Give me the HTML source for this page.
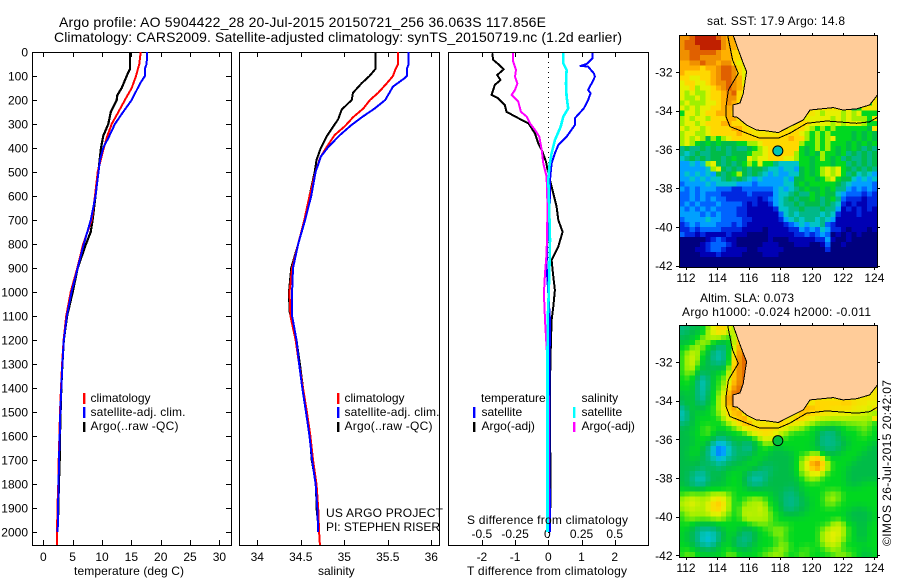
<!DOCTYPE html>
<html><head><meta charset="utf-8"><title>Argo profile</title>
<style>
html,body{margin:0;padding:0;background:#fff}
svg{display:block}
text{font-family:"Liberation Sans",sans-serif;font-size:12px;fill:#000}
</style></head>
<body>
<svg id="fig" xmlns="http://www.w3.org/2000/svg" width="900" height="580" viewBox="0 0 900 580">
<rect width="900" height="580" fill="#fff"/>
<text x="59" y="27" style="font-size:14px" textLength="487">Argo profile: AO 5904422_28 20-Jul-2015 20150721_256 36.063S 117.856E</text>
<text x="54" y="42" style="font-size:14px" textLength="568">Climatology: CARS2009. Satellite-adjusted climatology: synTS_20150719.nc (1.2d earlier)</text>
<g id="plots"></g>
<g id="maps"></g>
<g>
<rect x="83" y="393" width="2.4" height="11" fill="#f00"/>
<rect x="83" y="407" width="2.4" height="11" fill="#00f"/>
<rect x="83" y="422" width="2.4" height="10" fill="#000"/>
<text x="90.5" y="402">climatology</text>
<text x="90.5" y="416" textLength="95">satellite-adj. clim.</text>
<text x="90.5" y="430" textLength="88">Argo(..raw -QC)</text>
</g>
<g>
<rect x="337" y="393" width="2.4" height="11" fill="#f00"/>
<rect x="337" y="407" width="2.4" height="11" fill="#00f"/>
<rect x="337" y="422" width="2.4" height="10" fill="#000"/>
<text x="344.5" y="402">climatology</text>
<text x="344.5" y="416" textLength="95">satellite-adj. clim.</text>
<text x="344.5" y="430" textLength="88">Argo(..raw -QC)</text>
<text x="326" y="517" textLength="117">US ARGO PROJECT</text>
<text x="326" y="531" textLength="114">PI: STEPHEN RISER</text>
</g>
<g>
<text x="481" y="402">temperature</text>
<rect x="473" y="407" width="2.4" height="11" fill="#00f"/>
<rect x="473" y="422" width="2.4" height="10" fill="#000"/>
<text x="481.5" y="416">satellite</text>
<text x="481.5" y="430">Argo(-adj)</text>
<text x="581.5" y="402">salinity</text>
<rect x="573" y="407" width="2.4" height="11" fill="#0ff"/>
<rect x="573" y="422" width="2.4" height="10" fill="#f0f"/>
<text x="581.5" y="416">satellite</text>
<text x="581.5" y="430">Argo(-adj)</text>
</g>
<text x="74" y="575" textLength="110">temperature (deg C)</text>
<text x="318" y="575">salinity</text>
<text x="467" y="575" textLength="160">T difference from climatology</text>
<text x="467" y="524" textLength="161">S difference from climatology</text>
<text x="707" y="25" textLength="138">sat. SST: 17.9 Argo: 14.8</text>
<text x="700" y="302" textLength="94">Altim. SLA: 0.073</text>
<text x="682" y="316" textLength="189">Argo h1000: -0.024 h2000: -0.011</text>
<text x="0" y="0" transform="translate(891,546) rotate(-90)" textLength="166">©IMOS 26-Jul-2015 20:42:07</text>
</svg>
<script>
// ---------- profile data ----------
const depthTicks = [0,100,200,300,400,500,600,700,800,900,1000,1100,1200,1300,1400,1500,1600,1700,1800,1900,2000];
const tempTicks = [0,5,10,15,20,25,30];
const salTicks = [34,34.5,35,35.5,36];
const tDiffTicks = [-2,-1,0,1,2];
const sDiffTicks = [-0.5,-0.25,0,0.25,0.5];

const tempClimDepth = [0,50,100,150,200,250,300,350,400,500,600,700,800,900,1000,1100,1200,1300,1400,1500,1600,1700,1800,1900,2000,2054];
const tempClim = [16.6,16.35,15.8,15.06,13.9,12.8,11.65,10.9,10.3,9.26,8.8,8.24,6.8,5.8,4.66,3.9,3.45,3.2,3.02,2.85,2.75,2.62,2.55,2.4,2.35,2.3];
const tempSatDepth = [0,50,70,100,130,200,250,300,350,400,450,500,600,700,800,900,1000,1100,1200,1300,1400,1500,1600,1700,1800,1900,2000];
const tempSat = [17.7,17.6,17.3,17.3,16.5,15.06,13.6,12.2,11.25,10.2,9.66,9.4,8.9,8.1,6.9,5.86,4.8,4.0,3.5,3.25,3.07,2.9,2.79,2.67,2.6,2.5,2.45];
const tempArgoDepth = [0,70,100,150,180,200,250,300,350,400,500,600,700,750,800,900,1000,1100,1200,1300,1400,1500,1600,1700,1800,1900,1960];
const tempArgo = [14.77,14.77,14.2,13.35,12.6,12.5,11.5,11.07,10.2,9.83,9.37,8.9,8.4,8.07,7.27,5.86,5.0,4.05,3.5,3.25,3.07,2.95,2.85,2.8,2.65,2.55,2.5];

const salClimDepth = [0,50,70,100,130,170,200,235,272,308,346,394,443,500,600,700,800,900,1000,1100,1200,1300,1400,1500,1600,1700,1800,1900,2000,2054];
const salClim = [35.62,35.62,35.59,35.56,35.49,35.39,35.295,35.22,35.1,35.01,34.89,34.8,34.72,34.67,34.6,34.54,34.47,34.4,34.37,34.38,34.44,34.48,34.525,34.57,34.61,34.64,34.68,34.7,34.71,34.72];
const salSatDepth = [0,50,70,100,110,144,200,235,272,308,346,394,436,500,600,700,800,900,1000,1100,1200,1300,1400,1500,1600,1700,1800,1900,2000];
const salSat = [35.74,35.74,35.72,35.72,35.69,35.56,35.47,35.35,35.2,35.07,34.95,34.82,34.73,34.67,34.62,34.55,34.47,34.41,34.4,34.4,34.45,34.48,34.517,34.56,34.6,34.63,34.67,34.69,34.7];
const salArgoDepth = [0,70,100,130,170,200,240,280,320,350,400,450,500,600,700,800,900,1000,1080,1200,1300,1400,1500,1600,1700,1800,1900,1970];
const salArgo = [35.356,35.36,35.29,35.2,35.1,35.085,34.97,34.93,34.855,34.8,34.73,34.68,34.66,34.6,34.55,34.47,34.39,34.364,34.37,34.45,34.49,34.525,34.565,34.605,34.625,34.675,34.68,34.7];

const diffTArgoDepth = [5,33,50,72,96,117,137,179,193,221,249,276,297,339,381,408,457,485,533,589,644,700,749,811,867,936,992,1061,1117,1300,1500,1700,1900];
const diffTArgo = [-1.69,-1.66,-1.51,-1.34,-1.54,-1.44,-1.61,-1.71,-1.51,-1.31,-1.26,-0.9,-0.6,-0.4,-0.3,-0.2,-0.07,-0.03,0.05,0.15,0.25,0.3,0.43,0.3,0.1,0.15,0.2,0.15,0.1,0.06,0.05,0.06,0.06];
const diffTSatDepth = [5,26,50,58,61,89,103,131,158,172,200,235,276,304,353,388,422,464,533,617,714,783,894,1006,1117,1300,1500,1700,2000];
const diffTSat = [1.325,1.335,1.155,0.97,1.2,1.375,1.405,1.305,1.2,1.275,1.2,1.07,0.8,0.8,0.55,0.3,0.2,0.1,0.05,0.05,0,-0.03,-0.05,0,0.05,0.04,0.03,0.04,0.05];
const diffSArgoDepth = [5,40,75,103,131,158,179,207,249,269,297,325,353,408,464,519,617,700,839,922,1006,1117,1300,1500,1700,1960];
const diffSArgo = [-0.264,-0.264,-0.243,-0.251,-0.233,-0.251,-0.276,-0.226,-0.206,-0.163,-0.138,-0.1,-0.068,-0.05,-0.038,-0.0125,-0.0075,-0.0075,-0.0125,-0.025,-0.033,-0.025,-0.005,0.002,0.003,0.002];
const diffSSatDepth = [5,47,75,131,186,235,269,311,367,422,478,533,617,783,922,1061,1117,1400,2000];
const diffSSat = [0.113,0.113,0.138,0.133,0.138,0.15,0.113,0.093,0.05,0.025,0.0075,0,0.005,0.0125,0.0075,0,-0.005,-0.006,-0.006];

// ---------- map data: one hex digit per cell = colour level, '.' = land ----------
const lonTicks = [112,114,116,118,120,122,124];
const latTicks = [-32,-34,-36,-38,-40,-42];
const lonStart = 111.573, lonStep = 0.3319, latStart = -30.09, latStep = -0.2607;
const argoLon = [117.85];
const argoLat = [-36.07];
const coastLon = [115.0,115.33,115.65,115.86,115.76,115.65,115.44,115.0,115.0,115.27,115.86,116.5,117.03,117.88,118.62,119.47,119.9,121.38,122,122.87,123.7,124.19];
const coastLat = [-30.09,-30.86,-31.55,-31.98,-32.5,-33.1,-33.6,-33.7,-34.3,-34.34,-34.74,-35.0,-35.03,-35.13,-34.82,-34.48,-33.96,-33.84,-33.96,-33.9,-33.7,-33.19];
const shelfLon = [114.65,114.97,115.33,114.7,114.55,114.55,114.8,115.86,116.7,117.88,118.62,119.68,120.96,122.87,123.7,124.19];
const shelfLat = [-30.09,-31.38,-32.07,-32.93,-33.79,-34.3,-34.82,-35.16,-35.42,-35.42,-35.16,-34.65,-34.53,-34.65,-34.57,-34.34];

const sstRows = [
"ddeff ffedc cb","deeff fffdc cb","deeef fffdc cb","ddeee eedcc bb","ddeed dddcc bb",
"ccdde ddcdd bab","ccccb ccdee dba","cbbbb bcdee dbaa","bbaab bcdee dcaa","abbaa bcdde dcaa9",
"aab9a abcde dcba9","a9a99 abbcd ebaa8","a99a9 abbcd dbaa8 ..... ..... ..... ..... 8","9a999 aabcd cb988 8.... ..... ..... ..... 88","a9a9a abbcc c.... ..... ..... ..... ...78",
"8aa9a bbccc b.... ..... ..... .a9aa a9a9a 888","9a9aa 9bbbc c.... ..... .... aaaaa 9a9a9 998","9aa9a bbbcc bb... ..... ...bb aaaa9 a9aaa 988","a9aa9 abbbb ccb.. ..... ..bba 98989 88888 87","9aa99 abbbb bcbb. .... bbbba 98989 88887 8787",
"9a9a9 7989a bbbbb bbbbb bcbb9 8989a 88878 787","9a987 87877 78899 abbbb bbb98 89898 88787 878","67667 67676 76678 9abbb bbb87 89898 78787 676","65676 67776 77789 9abbb bb987 87988 78676 767","56767 67767 877a9 aabbb aa988 78987 86766 767",
"44545 9a767 67898 a8865 55588 78887 88676 767","44444 59a76 76767 76554 55478 789a9 a8767 676","45454 54767 89767 65454 45578 789a9 a8675 654","44545 45567 67654 54444 54778 8789a 87754 545","34444 54555 54443 44444 55787 88888 76544 443",
"43434 44333 22333 33345 45678 77878 66434 343","33434 33322 22232 22245 56766 87877 54333 232","33434 34332 22222 12345 67677 87678 63222 122","34343 33433 33212 11245 66767 77676 52121 122","43434 34333 32211 11125 56676 66766 41212 121",
"44443 43433 32211 11113 56566 66565 21112 111","34444 54433 33221 11112 45656 65654 11111 111","23434 44333 23211 11111 23454 55632 11111 111","22323 33322 22111 10111 12243 43542 21011 101","32212 11112 11100 00111 11223 23430 10101 000",
"00000 12321 10000 00100 01111 12241 00100 000","00001 23332 10000 01110 00111 00130 01000 000","00011 23321 11100 11111 00000 00020 00000 000","00001 11211 11000 01110 00000 00000 00000 000","00000 00000 00000 00000 00000 00000 00000 000","00000 00000 00000 00000 00000 00000 00000 000"
];
const slaRows = [
"66777 9abca 99","67778 9abb9 9b","77789 9a998 9c","77899 98777 9ccd","88999 87667 acee",
"89a98 76567 bdee","89a98 76567 bdee","89a97 76667 cdee","89a87 77778 cdee","89977 77889 cdee",
"88965 68899 cdee","88865 68899 cdee","88865 6889b deed ..... ..... ..... ..... a","77865 7899c eedb. ..... ..... ..... ..... aa","77865 789ad eec.. ..... ..... ..... ...aa",
"77866 789ad e.... ..... ..... .bbbb bbcbb baa","57877 889ab c.... ..... .... ccbbb bbbba aaa","56787 889ab cc... ..... ...cb bbbba aaaaa a99","56788 8889a bcc.. ..... ..cbb aa999 9a999 99","67788 88889 abcc. .... cbbaa 99899 99899 9998",
"77788 98888 89abb bbbba a9998 88776 78888 988","77888 98778 8889a bbba9 98888 87666 78888 988","77788 87667 78788 9aa99 88888 87666 77888 888","77788 76455 77667 89988 88888 87666 67788 887","77887 65245 67657 88877 88888 77666 77888 877",
"77887 65245 67677 88777 77888 99877 78888 777","77877 66456 67778 87777 77899 bc988 88887 777","77777 67567 77788 77777 7789a dfc98 88877 777","77776 77677 78887 76677 7789a bdb98 88777 777","77665 77778 88766 66777 77899 aa988 88777 777",
"77655 67778 88765 56777 77789 99888 88777 777","77665 77778 88766 67777 77788 88888 88777 888","87777 88888 88877 77777 76778 88888 88888 888","89999 99999 88888 88877 66778 88899 98888 888","99a99 9aba9 88899 98877 66677 88899 98888 888",
"9aaa9 abcb9 88999 a9887 66677 88899 88888 888","99a99 abca9 88a99 a9887 66777 88888 88877 788","89999 9aa99 88a99 a9988 77778 88888 88777 778","89999 99998 889a9 99988 88888 88888 88777 778","88877 77888 88889 99888 88888 88889 a9887 788",
"88766 66778 87777 88999 98888 8899a a9887 788","87765 55678 87667 88899 88888 889aa a9887 788","87765 45678 76667 88889 88888 889aa a9887 788","88766 56788 76677 88889 98888 8899a 98888 888","88877 67788 87778 88899 98889 88899 98888 788","89988 88889 98888 89999 88898 88888 99988 778"
];
const levelColors = ["#00007f","#0000b4","#0028e0","#0064ff","#00a0ff","#00c4c8","#00b888","#00bc48","#00d820","#a0f000","#e6f000","#ffd800","#ffb000","#f09000","#e06000","#c02000"];

// ---------- axis functions ----------
const NS = "http://www.w3.org/2000/svg";
const yD = d => 52 + 0.24 * d;
const xTemp = t => 43.3 + 5.87 * t;
const xSal = s => 257.3 + 87 * (s - 34);
const xDT = t => 548.3 + 33.2 * t;
const xDS = s => 548.3 + 132.8 * s;
const xLon = l => 686 + 15.7 * (l - 112);
const ySst = l => 72 + 19.37 * (-32 - l);
const ySla = l => 362 + 19.33 * (-32 - l);

function mk(tag, parent, attrs, txt) {
  const n = document.createElementNS(NS, tag);
  for (const k in attrs) n.setAttribute(k, attrs[k]);
  if (txt !== undefined) n.textContent = txt;
  parent.appendChild(n);
  return n;
}
const plots = document.getElementById('plots');
const maps = document.getElementById('maps');

function frame(parent, x0, x1, y0, y1, name) {
  const r = mk('rect', parent, {x: x0 + .5, y: y0 + .5, width: x1 - x0, height: y1 - y0, fill: 'none', stroke: '#000', 'shape-rendering': 'crispEdges'});
  
  
}
function tickLine(parent, x1, y1, x2, y2) {
  const t = mk('line', parent, {x1, y1, x2, y2, stroke: '#000', 'shape-rendering': 'crispEdges'});
  
  
}
function label(parent, x, y, anchor, s) {
  const t = mk('text', parent, {x, y, 'text-anchor': anchor}, s);
  
  
}
function series(name, xs, depths, xf, color, w) {
  const pts = xs.map((v, i) => xf(v).toFixed(1) + ',' + yD(depths[i]).toFixed(1)).join(' ');
  const l = mk('polyline', plots, {points: pts, fill: 'none', stroke: color, 'stroke-width': w, 'shape-rendering': 'crispEdges', 'stroke-linejoin': 'round'});
  
  
}

// panel frames and ticks
frame(plots, 32, 231, 52, 545, 'temperature-axes-frame');
frame(plots, 239, 439, 52, 545, 'salinity-axes-frame');
frame(plots, 448, 648, 52, 545, 'difference-axes-frame');
depthTicks.forEach(d => {
  const y = Math.round(yD(d)) + .5;
  if (d > 0) {
    tickLine(plots, 32, y, 37, y);
    tickLine(plots, 231, y, 226, y);
  }
  label(plots, 28, yD(d) + 4.5, 'end', String(d));
});
tempTicks.forEach(t => {
  const x = Math.round(xTemp(t)) + .5;
  tickLine(plots, x, 52, x, 57);
  tickLine(plots, x, 545, x, 540);
  label(plots, xTemp(t), 561, 'middle', String(t));
});
salTicks.forEach(s => {
  const x = Math.round(xSal(s)) + .5;
  tickLine(plots, x, 52, x, 57);
  tickLine(plots, x, 545, x, 540);
  label(plots, xSal(s), 561, 'middle', String(s));
});
tDiffTicks.forEach(t => {
  const x = Math.round(xDT(t)) + .5;
  tickLine(plots, x, 52, x, 57);
  tickLine(plots, x, 545, x, 540);
  label(plots, xDT(t), 561, 'middle', String(t));
});
sDiffTicks.forEach(s => {
  label(plots, xDS(s) - (s === 0 ? 1 : 0), 538, 'middle', String(s));
});
const zero = mk('line', plots, {x1: 548.5, y1: 52, x2: 548.5, y2: 545, stroke: '#000', 'stroke-dasharray': '1 4', 'shape-rendering': 'crispEdges'});



// series
series('temperature-argo-line', tempArgo, tempArgoDepth, xTemp, '#000', 2.2);
series('temperature-climatology-line', tempClim, tempClimDepth, xTemp, '#f00', 2);
series('temperature-satellite-line', tempSat, tempSatDepth, xTemp, '#00f', 2);
series('salinity-argo-line', salArgo, salArgoDepth, xSal, '#000', 2);
series('salinity-climatology-line', salClim, salClimDepth, xSal, '#f00', 2);
series('salinity-satellite-line', salSat, salSatDepth, xSal, '#00f', 2);
series('t-difference-argo-line', diffTArgo, diffTArgoDepth, xDT, '#000', 2);
series('t-difference-satellite-line', diffTSat, diffTSatDepth, xDT, '#00f', 2);
series('s-difference-argo-line', diffSArgo, diffSArgoDepth, xDS, '#f0f', 2);
series('s-difference-satellite-line', diffSSat, diffSSatDepth, xDS, '#0ff', 2.6);

// colour scale
const levelRgb = levelColors.map(h => [1, 3, 5].map(p => parseInt(h.substr(p, 2), 16)));
function levelColor(v) {
  const a = Math.max(0, Math.min(14.999, v)), i = Math.floor(a), f = a - i;
  return 'rgb(' + levelRgb[i].map((c, k) => Math.round(c + (levelRgb[i + 1][k] - c) * f)).join(',') + ')';
}
function parseGrid(rows) {
  return rows.map(r => {
    const s = r.replace(/\s/g, '');
    const out = [];
    for (let i = 0; i < 38; i++) out.push(i < s.length ? parseInt(s[i], 16) : NaN);
    return out;
  });
}
function smoothGrid(g) {
  const w = [[1, 2, 1], [2, 4, 2], [1, 2, 1]];
  return g.map((row, j) => row.map((v, i) => {
    if (isNaN(v)) return v;
    let sum = 0, tot = 0;
    for (let dj = -1; dj <= 1; dj++) for (let di = -1; di <= 1; di++) {
      const u = (g[j + dj] || [])[i + di];
      if (u === undefined || isNaN(u)) continue;
      sum += u * w[dj + 1][di + 1];
      tot += w[dj + 1][di + 1];
    }
    return sum / tot;
  }));
}

// maps
function drawMap(grid, yf, top, bottom, cellName, dotColor, prefix) {
  const g = mk('g', maps, {});
  
  
  const clipId = prefix + '-clip';
  const cp = mk('clipPath', g, {id: clipId});
  mk('rect', cp, {x: 679, y: top, width: 198.5, height: bottom - top});
  const inner = mk('g', g, {'clip-path': 'url(#' + clipId + ')'});
  
  
  grid.forEach((row, j) => {
    row.forEach((v, i) => {
      const x0 = xLon(lonStart + i * lonStep), x1 = xLon(lonStart + (i + 1) * lonStep);
      const y0 = yf(latStart + j * latStep), y1 = yf(latStart + (j + 1) * latStep);
      const c = mk('rect', inner, {x: x0.toFixed(1), y: y0.toFixed(1), width: (x1 - x0 + .6).toFixed(1), height: (y1 - y0 + .6).toFixed(1), fill: levelColor(isNaN(v) ? 10.5 : v), 'shape-rendering': 'crispEdges'});
      
      
    });
  });
  const coastPts = coastLon.map((l, i) => xLon(l).toFixed(1) + ',' + yf(coastLat[i]).toFixed(1));
  const land = mk('polygon', inner, {points: coastPts.join(' ') + ' 880,' + yf(-33.19).toFixed(1) + ' 880,' + (top - 2) + ' ' + xLon(115).toFixed(1) + ',' + (top - 2), fill: '#ffcc99', stroke: 'none'});
  
  
  const coast = mk('polyline', inner, {points: coastPts.join(' '), fill: 'none', stroke: '#000', 'shape-rendering': 'crispEdges'});
  
  
  const shelf = mk('polyline', inner, {points: shelfLon.map((l, i) => xLon(l).toFixed(1) + ',' + yf(shelfLat[i]).toFixed(1)).join(' '), fill: 'none', stroke: '#000', 'shape-rendering': 'crispEdges'});
  
  
  const dot = mk('circle', inner, {cx: xLon(argoLon[0]), cy: yf(argoLat[0]), r: 5, fill: dotColor, stroke: '#000'});
  
  
  frame(g, 679, 877, top, bottom, prefix + '-map-frame');
  lonTicks.forEach(l => {
    const x = Math.round(xLon(l)) + .5;
    tickLine(g, x, top, x, top - 2);
    tickLine(g, x, bottom + 1, x, bottom + 3);
    label(g, xLon(l), bottom + 15, 'middle', String(l));
  });
  latTicks.forEach(l => {
    const y = Math.round(yf(l)) + .5;
    tickLine(g, 679, y, 676, y);
    tickLine(g, 878, y, 880, y);
    label(g, 672.5, yf(l) + 4.5, 'end', String(l));
  });
}
drawMap(parseGrid(sstRows), ySst, 35, 267, 'sst-cell', '#00c4b4', 'sst');
drawMap(smoothGrid(parseGrid(slaRows)), ySla, 325, 557, 'sla-cell', '#00c040', 'sla');
</script>
</body></html>
